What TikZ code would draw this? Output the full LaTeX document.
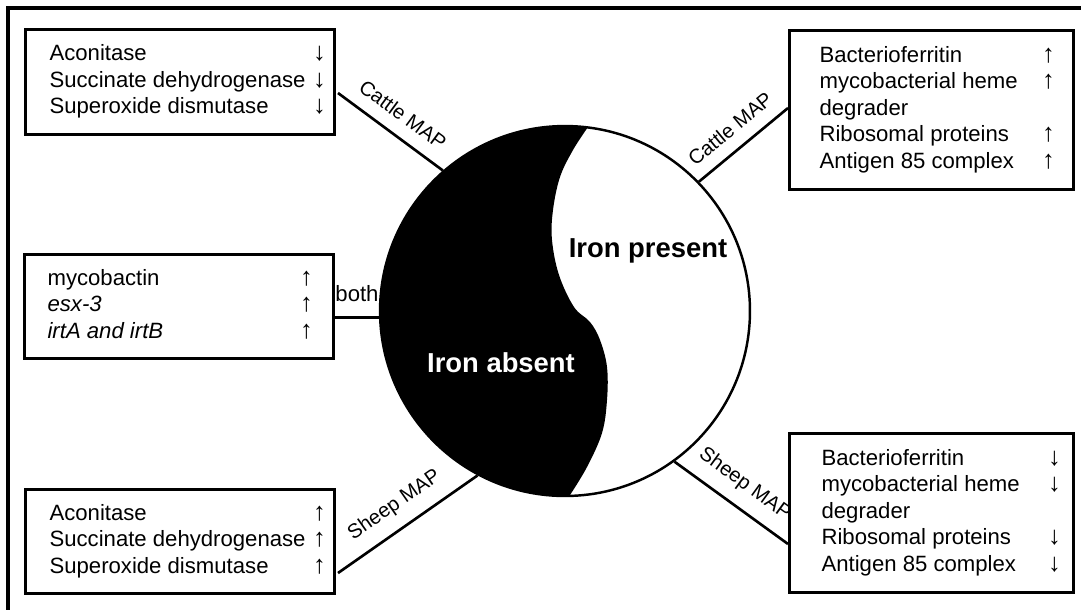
\documentclass[tikz,border=0pt]{standalone}
\usepackage{fontspec}
\setmainfont{Liberation Sans}
\newcommand{\arrup}{\makebox[0.22cm]{\fontsize{14.5}{15}\selectfont ↑}}
\newcommand{\arrdn}{\makebox[0.22cm]{\fontsize{14.5}{15}\selectfont ↓}}

\begin{document}
\begin{tikzpicture}[x=0.02cm, y=-0.02cm,
    listbox/.style={draw, line width=1.8pt, rectangle, inner sep=0pt, anchor=north west,
        font=\fontsize{12.6}{15}\selectfont},
    link/.style={line width=1.5pt},
    maplabel/.style={midway, sloped, above, inner xsep=0pt, inner ysep=7pt,
        font=\fontsize{11.5}{13}\selectfont}]
    \useasboundingbox (0, 0) rectangle (1081, 610);
    \draw [line width=2.2pt] (1081, 8) -- (8, 8) -- (8, 610);

    \fill (588, 127) arc [start angle=-83, end angle=-271.6, radius=185]
        -- plot [smooth, tension=0.6] coordinates {(570, 495) (587, 467) (602, 433) (607, 400)
        (607, 367) (600, 340) (590, 322) (574, 307) (559, 275) (552, 240) (553, 210)
        (560, 177) (573, 150) (588, 127)} -- cycle;
    \node [circle, draw, line width=1.4pt, minimum size=7.4cm, inner sep=0pt] (iron) at (565, 311) {};
    \node [font=\fontsize{15.6}{18}\bfseries\selectfont] (present) at (648, 251) {Iron present};
    \node [font=\fontsize{15.6}{18}\bfseries\selectfont, text=white] (absent) at (501, 363) {Iron absent};

    \node [listbox, minimum height=2.1cm] (tl) at (24, 28) {%
        \begin{tabular}{@{\hspace{0.48cm}}p{5.29cm}@{}c@{\hspace{0.19cm}}}
        Aconitase & \arrdn\\
        Succinate dehydrogenase & \arrdn\\
        Superoxide dismutase & \arrdn
        \end{tabular}};
    \node [listbox, minimum height=3.18cm] (tr) at (788, 29) {%
        \begin{tabular}{@{\hspace{0.6cm}}p{4.47cm}@{}c@{\hspace{0.39cm}}}
        Bacterioferritin & \arrup\\
        mycobacterial heme & \arrup\\
        degrader & \\
        Ribosomal proteins & \arrup\\
        Antigen 85 complex & \arrup
        \end{tabular}};
    \node [listbox, minimum height=2.08cm] (ml) at (23, 253) {%
        \begin{tabular}{@{\hspace{0.46cm}}p{5.07cm}@{}c@{\hspace{0.43cm}}}
        mycobactin & \arrup\\
        \textit{esx-3} & \arrup\\
        \textit{irtA and irtB} & \arrup
        \end{tabular}};
    \node [listbox, minimum height=2.08cm] (bl) at (24, 488) {%
        \begin{tabular}{@{\hspace{0.48cm}}p{5.29cm}@{}c@{\hspace{0.19cm}}}
        Aconitase & \arrup\\
        Succinate dehydrogenase & \arrup\\
        Superoxide dismutase & \arrup
        \end{tabular}};
    \node [listbox, minimum height=3.18cm] (br) at (788, 432) {%
        \begin{tabular}{@{\hspace{0.64cm}}p{4.55cm}@{}c@{\hspace{0.27cm}}}
        Bacterioferritin & \arrdn\\
        mycobacterial heme & \arrdn\\
        degrader & \\
        Ribosomal proteins & \arrdn\\
        Antigen 85 complex & \arrdn
        \end{tabular}};

    \coordinate (tlend) at (338, 93);
    \coordinate (trend) at (788, 108);
    \coordinate (blend) at (338, 573);
    \coordinate (brend) at (788, 544);
    \draw [link] (tlend) -- (iron.131.5) node [maplabel] {Cattle MAP};
    \draw [link] (iron.44) -- (trend) node [maplabel] {Cattle MAP};
    \draw [link] (ml.east |- iron.182.5) -- (iron.182.5)
        node [midway, above, inner ysep=8.5pt, font=\fontsize{12.6}{15}\selectfont] {both};
    \draw [link] (blend) -- (iron.242.6) node [maplabel] {Sheep MAP};
    \draw [link] (iron.306.4) -- (brend) node [maplabel] {Sheep MAP};
\end{tikzpicture}
\end{document}
